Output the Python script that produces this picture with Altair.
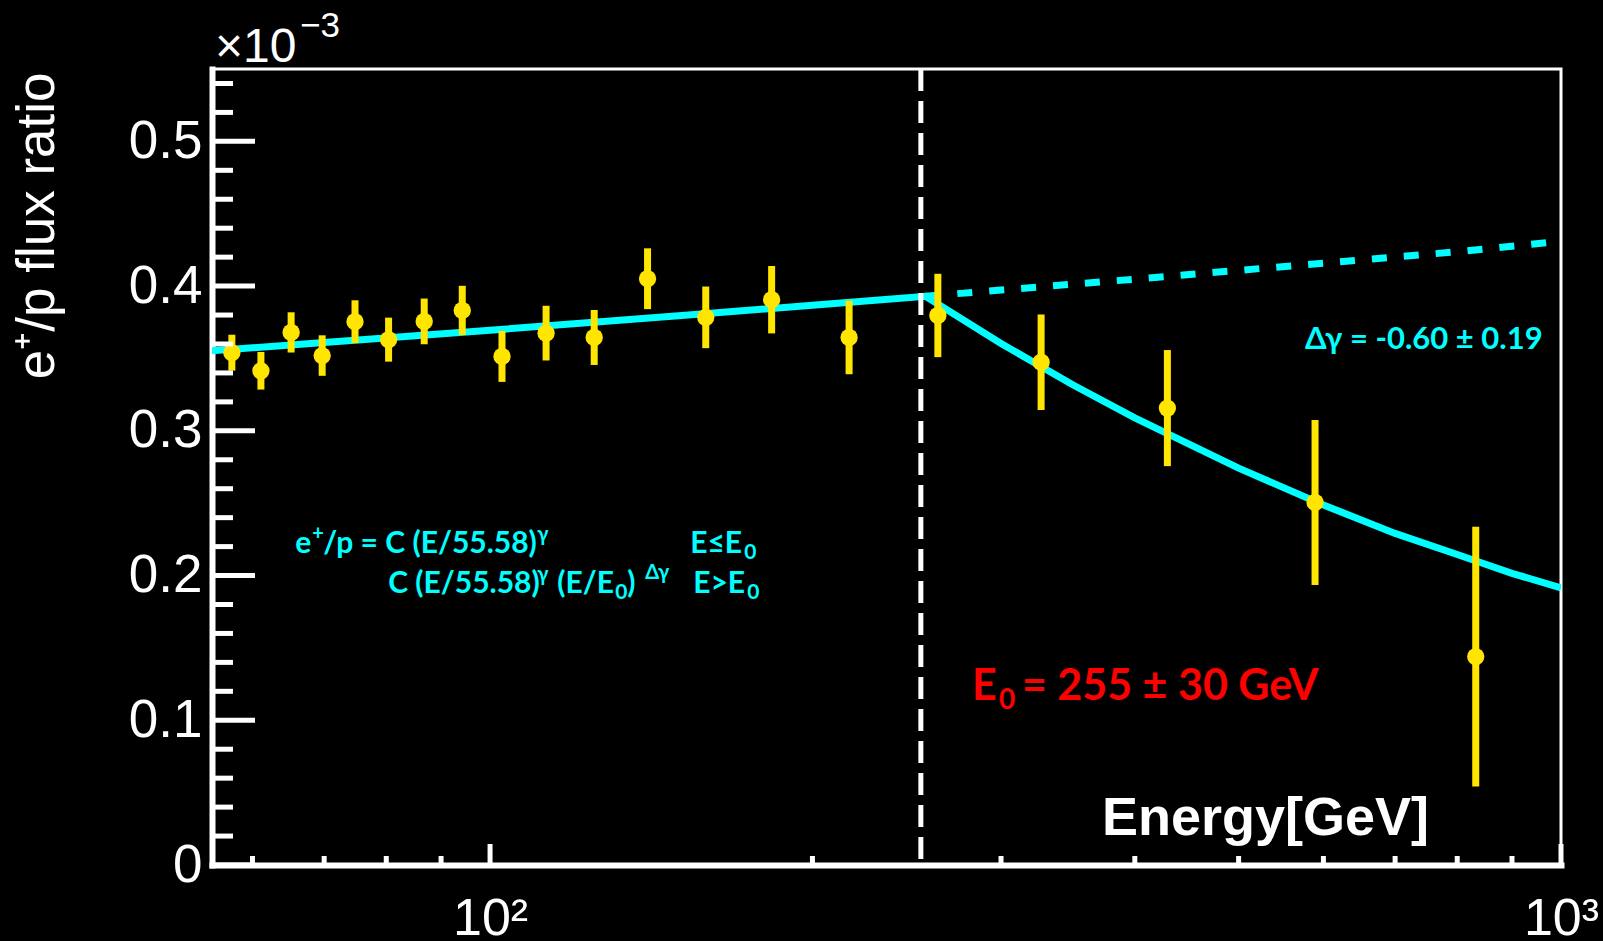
import altair as alt
import pandas as pd

# ---------------- data ----------------
energy = [57.4, 61.1, 65.2, 69.7, 74.8, 80.4, 86.8, 94.2, 102.6, 112.8,
          125.1, 140.3, 159.0, 183.2, 216.4, 261.9, 327.0, 429.0, 589.3, 832.5]
ratio = [0.354, 0.3415, 0.368, 0.352, 0.3754, 0.363, 0.3756, 0.3832, 0.3514, 0.3675,
         0.3645, 0.4051, 0.3784, 0.3906, 0.3645, 0.3797, 0.3474, 0.3157, 0.2505, 0.144]
ratio_err = [0.0124, 0.013, 0.0139, 0.014, 0.0148, 0.0152, 0.0158, 0.017, 0.0176, 0.0189,
             0.019, 0.021, 0.0213, 0.0233, 0.0254, 0.0288, 0.033, 0.0401, 0.057, 0.0897]

# broken power-law fit (solid) and its extrapolation without break (dashed)
fit_E = [55, 70, 100, 150, 200, 255, 300, 350, 400, 500, 600, 700, 800, 900, 1000]
fit_ratio = [0.3553, 0.361, 0.3695, 0.3795, 0.3868, 0.393, 0.3603, 0.3318, 0.309,
             0.2742, 0.2488, 0.2291, 0.2145, 0.2015, 0.1915]
ext_E = [255, 400, 600, 800, 1000]
ext_ratio = [0.393, 0.4048, 0.4158, 0.4237, 0.431]
break_E = [252.5]

y_major = [0.0, 0.1, 0.2, 0.3, 0.4, 0.5]
y_minor = [0.02, 0.04, 0.06, 0.08, 0.12, 0.14, 0.16, 0.18, 0.22, 0.24, 0.26, 0.28,
           0.32, 0.34, 0.36, 0.38, 0.42, 0.44, 0.46, 0.48, 0.52, 0.54]
x_major = [100, 1000]
x_minor = [60, 70, 80, 90, 200, 300, 400, 500, 600, 700, 800, 900]
x_labels = ["10²", "10³"]

# ---------------- styles ----------------
W, H = 1349, 796
YELLOW = "#FFE500"
CYAN = "#00FFFF"
RED = "#FF0000"
WHITE = "#FFFFFF"
HELV = "Liberation Sans"
CAL = "Lato, Noto Sans"

xscale = alt.Scale(type="log", domain=[55, 1000], nice=False)
yscale = alt.Scale(domain=[0, 0.55], nice=False, zero=False)

xaxis = alt.Axis(values=x_major,
                 labelExpr="datum.value == 100 ? '%s' : '%s'" % (x_labels[0], x_labels[1]),
                 ticks=False, tickSize=0, grid=False, domain=True, domainColor=WHITE,
                 domainWidth=6, domainCap="square", labelColor=WHITE, labelFont=HELV,
                 labelFontSize=52, labelPadding=28, labelFlush=False, labelOverlap=False,
                 title=None)
yaxis = alt.Axis(values=y_major,
                 labelExpr="datum.value == 0 ? '0' : format(datum.value, '.1f')",
                 ticks=False, tickSize=0, grid=False, domain=True, domainColor=WHITE,
                 domainWidth=6, domainCap="square", labelColor=WHITE, labelFont=HELV,
                 labelFontSize=53, labelPadding=10, labelFlush=False, labelOverlap=False,
                 title="e⁺/p flux ratio", titleColor=WHITE, titleFont=HELV,
                 titleFontSize=53, titleFontWeight="normal", titleAngle=270,
                 titleAlign="right", titleBaseline="alphabetic", titleX=-159, titleY=3)


def X():
    return alt.X("E:Q", scale=xscale, axis=xaxis)


def Y():
    return alt.Y("v:Q", scale=yscale, axis=yaxis)


pts = pd.DataFrame({"E": energy, "v": ratio, "err": ratio_err})
pts["hi"] = pts["v"] + pts["err"]
pts["v_lo"] = pts["v"] - pts["err"]

fit_df = pd.DataFrame({"E": fit_E, "v": fit_ratio})
ext_df = pd.DataFrame({"E": ext_E, "v": ext_ratio})
brk_df = pd.DataFrame({"E": break_E})

fit_line = alt.Chart(fit_df).mark_line(color=CYAN, strokeWidth=7, clip=True).encode(x=X(), y=Y())
ext_line = alt.Chart(ext_df).mark_line(color=CYAN, strokeWidth=7, strokeDash=[15, 17], clip=True).encode(x=X(), y=Y())
brk_line = alt.Chart(brk_df).mark_rule(color=WHITE, strokeWidth=5, strokeDash=[22, 10]).encode(x=X())

err_bars = alt.Chart(pts).mark_rule(color=YELLOW, strokeWidth=7).encode(
    x=X(), y=alt.Y("v_lo:Q", scale=yscale, axis=yaxis), y2="hi:Q")
points = alt.Chart(pts).mark_point(filled=True, shape="circle", size=300, color=YELLOW,
                                   opacity=1, strokeWidth=0).encode(x=X(), y=Y())

# inward ROOT-style ticks
ymaj = alt.Chart(pd.DataFrame({"v": y_major})).mark_rule(color=WHITE, strokeWidth=5).encode(
    y=Y(), x=alt.value(0), x2=alt.value(43))
ymin = alt.Chart(pd.DataFrame({"v": y_minor})).mark_rule(color=WHITE, strokeWidth=5).encode(
    y=Y(), x=alt.value(0), x2=alt.value(21))
xmaj = alt.Chart(pd.DataFrame({"E": x_major})).mark_rule(color=WHITE, strokeWidth=5).encode(
    x=X(), y=alt.value(H), y2=alt.value(H - 21))
xmin = alt.Chart(pd.DataFrame({"E": x_minor})).mark_rule(color=WHITE, strokeWidth=5).encode(
    x=X(), y=alt.value(H), y2=alt.value(H - 9))


def txt(E, v, s, dx=0, dy=0, size=30, color=CYAN, font=CAL, weight="bold", align="left"):
    return alt.Chart(pd.DataFrame({"E": [E], "v": [v], "t": [s]})).mark_text(
        align=align, baseline="alphabetic", dx=dx, dy=dy, fontSize=size, font=font,
        fontWeight=weight, color=color).encode(x=X(), y=Y(), text="t:N")


def ptxt(px, py, s, size, color=WHITE, font=HELV, weight="normal"):
    return alt.Chart(pd.DataFrame({"t": [s]})).mark_text(
        align="left", baseline="alphabetic", fontSize=size, font=font,
        fontWeight=weight, color=color).encode(x=alt.value(px), y=alt.value(py), text="t:N")


# formula annotation
fE, f1, f2 = 65.77, 0.2157, 0.188
SUP, SUB = 20, 21
formula = [
    txt(fE, f1, "e"),
    txt(fE, f1, "+", dx=17, dy=-13, size=SUP),
    txt(fE, f1, "/p = C (E/55.58)", dx=28),
    txt(fE, f1, "γ", dx=242, dy=-12, size=SUP),
    txt(fE, f1, "E≤E", dx=395),
    txt(fE, f1, "0", dx=449, dy=6, size=SUB),
    txt(fE, f2, "C (E/55.58)", dx=93),
    txt(fE, f2, "γ", dx=242, dy=-12, size=SUP),
    txt(fE, f2, "(E/E", dx=262),
    txt(fE, f2, "0", dx=320, dy=6, size=SUB),
    txt(fE, f2, ")", dx=332),
    txt(fE, f2, "Δγ", dx=350, dy=-14, size=SUP),
    txt(fE, f2, "E>E", dx=398),
    txt(fE, f2, "0", dx=452, dy=6, size=SUB),
]

e0_text = [
    txt(281.8, 0.1141, "E", size=43, color=RED),
    txt(281.8, 0.1141, "0", dx=27, dy=9, size=28, color=RED),
    txt(281.8, 0.1141, "= 255 ± 30 GeV", dx=50, size=43, color=RED),
]
dg_text = txt(576.8, 0.3567, "Δγ = -0.60 ± 0.19", size=31)
energy_text = txt(372.7, 0.0207, "Energy[GeV]", size=54, color=WHITE, font=HELV)
exp_text = [ptxt(3, -7, "×10", 48), ptxt(88, -32, "−3", 35)]

chart = alt.layer(
    fit_line, ext_line, brk_line, err_bars, points,
    ymaj, ymin, xmaj, xmin,
    *formula, *e0_text, dg_text, energy_text, *exp_text,
).properties(
    width=W, height=H,
    padding={"left": 212, "top": 69, "right": 42, "bottom": 76},
    autosize="none", background="black",
).configure_view(stroke=WHITE, strokeWidth=3)

chart.save("out.html", embed_options={"renderer": "svg", "actions": False})
